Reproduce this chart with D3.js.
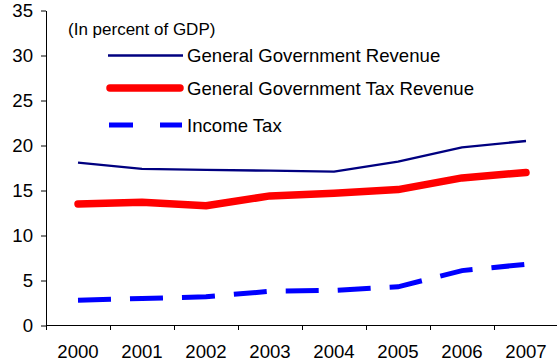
<!DOCTYPE html>
<html>
<head>
<meta charset="utf-8">
<script src="https://cdn.jsdelivr.net/npm/d3@7/dist/d3.min.js"></script>
<style>
  html, body { margin: 0; padding: 0; background: #fff; }
  svg { display: block; }
  text { font-family: Arial, "Liberation Sans", sans-serif; fill: #000; }
</style>
</head>
<body>
<svg id="chart" width="557" height="364"></svg>
<script>
// Revenue indicators, in percent of GDP
const years = ["2000", "2001", "2002", "2003", "2004", "2005", "2006", "2007"];
const generalRevenue = [18.1, 17.4, 17.3, 17.2, 17.1, 18.2, 19.8, 20.5];
const taxRevenue     = [13.5, 13.7, 13.3, 14.4, 14.7, 15.1, 16.4, 17.0];
const incomeTax      = [2.8, 3.0, 3.2, 3.8, 3.9, 4.3, 6.1, 6.8];
const yTicks = [0, 5, 10, 15, 20, 25, 30, 35];

const seriesNames = ["General Government Revenue", "General Government Tax Revenue", "Income Tax"];

const svg = d3.select("#chart");

const plotLeft = 46, plotRight = 558, plotTop = 10.5, plotBottom = 325.5;

const x = d3.scaleBand().domain(years).range([plotLeft, plotRight]).padding(0);
const xEdges = d3.scaleLinear().domain([0, years.length]).range([plotLeft, plotRight]);
const y = d3.scaleLinear().domain([0, 35]).range([plotBottom, plotTop]);

// Y axis
const yAxis = svg.append("g")
  .attr("transform", `translate(${plotLeft},0)`)
  .call(d3.axisLeft(y).tickValues(yTicks).tickSize(5).tickSizeOuter(0).tickPadding(8));
yAxis.selectAll("text").style("font-size", "18.6px").attr("fill", "#000");
yAxis.selectAll("line, path").attr("stroke", "#000");

// X axis: tick marks sit on the category boundaries
const xAxis = svg.append("g")
  .attr("transform", `translate(0,${plotBottom - 0.5})`)
  .call(d3.axisBottom(xEdges).tickValues(d3.range(years.length + 1)).tickFormat("").tickSize(5).tickSizeOuter(0));
xAxis.selectAll("line, path").attr("stroke", "#000");

// Category labels centred in each band
const xLabels = svg.append("g")
  .attr("transform", `translate(0,${plotBottom})`)
  .call(d3.axisBottom(x).tickSize(0).tickSizeOuter(0));
xLabels.select(".domain").remove();
xLabels.selectAll("text")
  .style("font-size", "18.6px")
  .attr("fill", "#000")
  .attr("y", 32.5)
  .attr("dy", null);

const cx = d => x(d) + x.bandwidth() / 2;

const lineGen = vals => d3.line()
  .x((d, i) => cx(years[i]))
  .y(d => y(d))(vals);

// Income tax (dashed)
svg.append("path")
  .attr("d", lineGen(incomeTax))
  .attr("fill", "none")
  .attr("stroke", "#0000FF")
  .attr("stroke-width", 5)
  .attr("stroke-dasharray", "33,19")
  .attr("stroke-linecap", "butt");

// Tax revenue (thick red)
svg.append("path")
  .attr("d", lineGen(taxRevenue))
  .attr("fill", "none")
  .attr("stroke", "#FF0000")
  .attr("stroke-width", 7.5)
  .attr("stroke-linejoin", "round")
  .attr("stroke-linecap", "round");

// General government revenue (thin navy)
svg.append("path")
  .attr("d", lineGen(generalRevenue))
  .attr("fill", "none")
  .attr("stroke", "#000080")
  .attr("stroke-width", 2.3)
  .attr("stroke-linejoin", "round");

// Legend
svg.append("text")
  .attr("x", 68).attr("y", 35)
  .style("font-size", "17px")
  .text("(In percent of GDP)");

const legend = [
  { name: seriesNames[0], y: 55.5, stroke: "#000080", width: 2.3, dash: null, cap: "butt", x1: 108, x2: 183 },
  { name: seriesNames[1], y: 88, stroke: "#FF0000", width: 7.5, dash: null, cap: "round", x1: 110, x2: 180 },
  { name: seriesNames[2], y: 125, stroke: "#0000FF", width: 5, dash: "24,27", cap: "butt", x1: 109, x2: 182 }
];

const lg = svg.append("g").selectAll("g").data(legend).join("g");
lg.append("line")
  .attr("x1", d => d.x1).attr("x2", d => d.x2)
  .attr("y1", d => d.y).attr("y2", d => d.y)
  .attr("stroke", d => d.stroke)
  .attr("stroke-width", d => d.width)
  .attr("stroke-linecap", d => d.cap)
  .attr("stroke-dasharray", d => d.dash);
lg.append("text")
  .attr("x", 187)
  .attr("y", d => d.y + 6.6)
  .style("font-size", "18.6px")
  .text(d => d.name);
</script>
</body>
</html>
